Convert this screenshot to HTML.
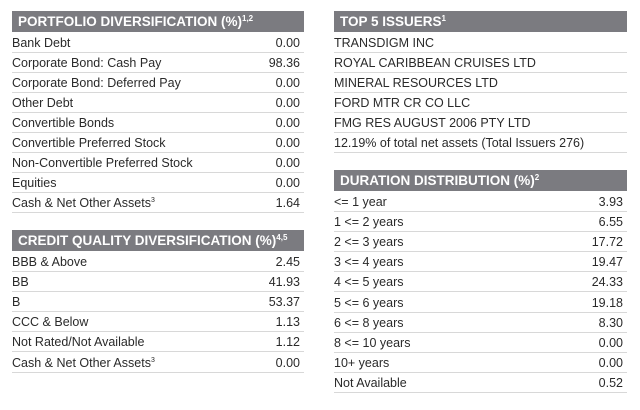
<!DOCTYPE html>
<html><head><style>
body{margin:0;width:640px;height:410px;background:#fff;font-family:"Liberation Sans",sans-serif;color:#2a2a2a;position:relative;overflow:hidden}
.h{position:absolute;background:#7b7b80;color:#fff;font-weight:bold;font-size:13.5px;line-height:21px;padding-left:6px;box-sizing:border-box;white-space:nowrap;overflow:hidden}
.h sup{font-size:8px;vertical-align:5px;line-height:0}
.r{position:absolute;height:20px;border-bottom:1.5px solid #d8d8d8;font-size:12.5px;line-height:20px;box-sizing:border-box;white-space:nowrap}
.r sup{font-size:7px;vertical-align:5px;line-height:0}
.r span{position:absolute;right:4px;top:0}
</style></head><body>
<div class="h" style="left:12px;top:11px;width:292px;height:21px">PORTFOLIO DIVERSIFICATION (%)<sup>1,2</sup></div>
<div class="h" style="left:12px;top:230px;width:292px;height:21px">CREDIT QUALITY DIVERSIFICATION (%)<sup>4,5</sup></div>
<div class="h" style="left:334px;top:11px;width:293px;height:21px">TOP 5 ISSUERS<sup>1</sup></div>
<div class="h" style="left:334px;top:170px;width:293px;height:21px">DURATION DISTRIBUTION (%)<sup>2</sup></div>
<script>
function rows(x,y,w,step,data){data.forEach((d,i)=>{const e=document.createElement('div');e.className='r';e.style.left=x+'px';e.style.top=(y+i*step)+'px';e.style.width=w+'px';e.style.height=step+'px';e.style.lineHeight=step+'px';e.innerHTML=d[0]+(d[1]!==undefined?'<span>'+d[1]+'</span>':'');document.body.appendChild(e);});}
rows(12,33,292,20,[["Bank Debt","0.00"],["Corporate Bond: Cash Pay","98.36"],["Corporate Bond: Deferred Pay","0.00"],["Other Debt","0.00"],["Convertible Bonds","0.00"],["Convertible Preferred Stock","0.00"],["Non-Convertible Preferred Stock","0.00"],["Equities","0.00"],["Cash &amp; Net Other Assets<sup>3</sup>","1.64"]]);
rows(12,252,292,20.1,[["BBB &amp; Above","2.45"],["BB","41.93"],["B","53.37"],["CCC &amp; Below","1.13"],["Not Rated/Not Available","1.12"],["Cash &amp; Net Other Assets<sup>3</sup>","0.00"]]);
rows(334,33,293,20,[["TRANSDIGM INC"],["ROYAL CARIBBEAN CRUISES LTD"],["MINERAL RESOURCES LTD"],["FORD MTR CR CO LLC"],["FMG RES AUGUST 2006 PTY LTD"],["12.19% of total net assets (Total Issuers 276)"]]);
rows(334,192,293,20.1,[["&lt;= 1 year","3.93"],["1 &lt;= 2 years","6.55"],["2 &lt;= 3 years","17.72"],["3 &lt;= 4 years","19.47"],["4 &lt;= 5 years","24.33"],["5 &lt;= 6 years","19.18"],["6 &lt;= 8 years","8.30"],["8 &lt;= 10 years","0.00"],["10+ years","0.00"],["Not Available","0.52"]]);
</script>
</body></html>
